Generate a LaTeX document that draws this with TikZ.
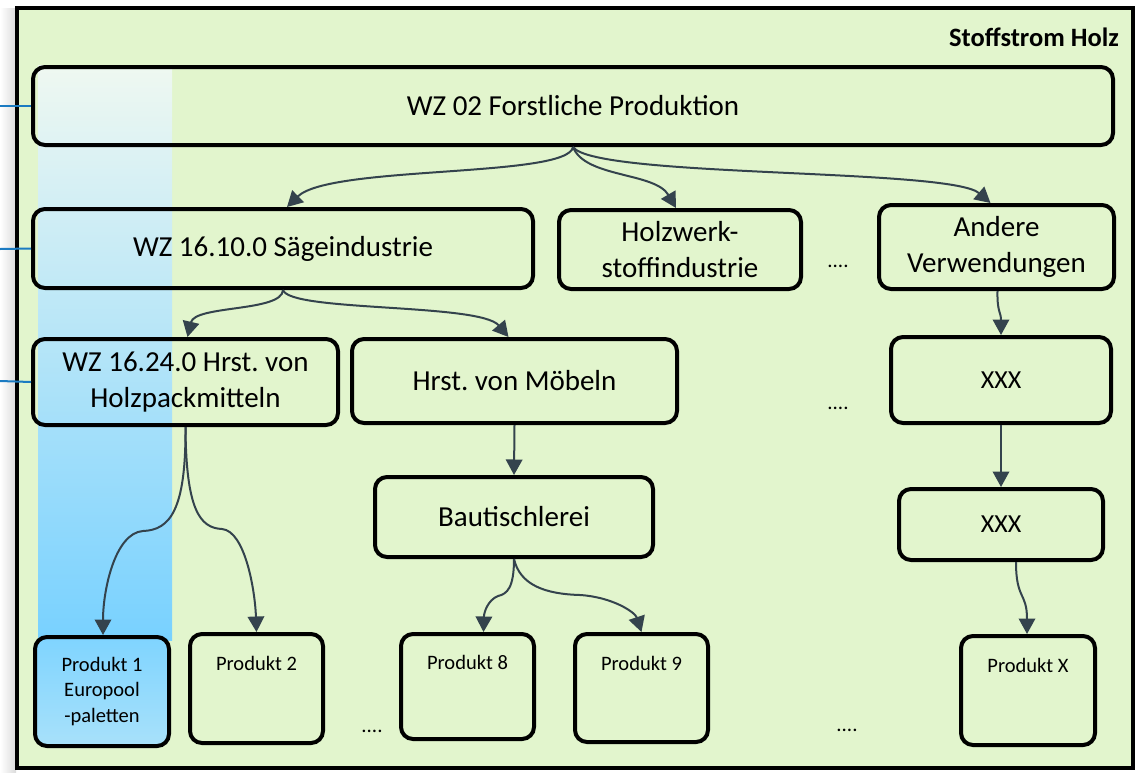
\documentclass[tikz,border=0pt]{standalone}
\usepackage{fontspec}
\setmainfont{Carlito}
\usetikzlibrary{arrows.meta}
\definecolor{bg}{HTML}{E2F5CD}
\definecolor{arr}{HTML}{34434D}
\definecolor{lnk}{HTML}{1B7BC2}
\definecolor{colTop}{HTML}{EFF8F1}
\definecolor{colBot}{HTML}{78D1FF}
\definecolor{pTop}{HTML}{7FD4FF}
\definecolor{pBot}{HTML}{A8E1FA}
\frenchspacing
\begin{document}
\begin{tikzpicture}[x=1pt,y=-1pt,
 box/.style={draw=black,line width=4pt,rounded corners=12pt,inner sep=0pt,align=center,font=\fontsize{29}{36}\selectfont},
 prod/.style={box,font=\fontsize{20.5}{25.5}\selectfont},
 plabel/.style={inner sep=0pt,font=\fontsize{20.5}{25}\selectfont},
 flow/.style={draw=arr,line width=2pt,-{Triangle[length=15.5pt,width=16.5pt]}},
 link/.style={draw=lnk,line width=2pt},
 dots/.style={inner sep=0pt,font=\fontsize{21}{25}\selectfont}
]
\useasboundingbox (0,0) rectangle (1138,772);
\fill[white] (0,0) rectangle (1138,772);
\shade[left color=white,right color=black!14] (0,8) rectangle (16,772);
\fill[bg] (17,8) rectangle (1133,768);
\shade[top color=colTop,bottom color=colBot] (38,65) rectangle (172,640);
\draw[line width=3.5pt] (17,8) rectangle (1133,768);

\node[anchor=east,inner sep=0pt,font=\fontsize{26.5}{30}\selectfont\bfseries] (title) at (1119,37) {Stoffstrom Holz};

\node[box,minimum width=1080pt,minimum height=78pt] (top) at (573,106) {WZ 02 Forstliche Produktion};
\node[box,minimum width=500pt,minimum height=79pt] (saege) at (283,248.5) {WZ 16.10.0 Sägeindustrie};
\node[box,minimum width=242pt,minimum height=79pt] (holz) at (680,249.5) {Holzwerk-\\stoffindustrie};
\node[box,minimum width=235pt,minimum height=84pt] (andere) at (996.5,247) {Andere\\Verwendungen};
\node[box,minimum width=305pt,minimum height=86pt] (wz) at (185.5,382) {WZ 16.24.0 Hrst. von\\Holzpackmitteln};
\node[box,minimum width=325pt,minimum height=84pt] (moebel) at (514.5,381) {Hrst. von Möbeln};
\node[box,minimum width=220pt,minimum height=86pt,font=\fontsize{26}{30}\selectfont] (xxx1) at (1001,380) {XXX};
\node[box,minimum width=278pt,minimum height=80pt] (baut) at (514,517) {Bautischlerei};
\node[box,minimum width=204pt,minimum height=71pt,font=\fontsize{26}{30}\selectfont] (xxx2) at (1001,524.5) {XXX};

\node[prod,top color=pTop,bottom color=pBot,minimum width=134pt,minimum height=109pt] (p1) at (102,691.5) {Produkt 1\\Europool\\-paletten};
\node[prod,minimum width=133pt,minimum height=109pt] (p2) at (256.5,688.5) {};
\node[prod,minimum width=133pt,minimum height=105pt] (p8) at (467.5,686.5) {};
\node[prod,minimum width=133pt,minimum height=108pt] (p9) at (641.5,688) {};
\node[prod,minimum width=134pt,minimum height=109pt] (px) at (1028,690.5) {};
\node[plabel] (p2t) at ([yshift=-31pt]p2.north) {Produkt 2};
\node[plabel] (p8t) at ([yshift=-30pt]p8.north) {Produkt 8};
\node[plabel] (p9t) at ([yshift=-31pt]p9.north) {Produkt 9};
\node[plabel] (pxt) at ([yshift=-31pt]px.north) {Produkt X};

\node[dots] (d1) at (838,266) {....};
\node[dots] (d2) at (838,408) {....};
\node[dots] (d3) at (372,731) {....};
\node[dots] (d4) at (847,730) {....};

\coordinate (l1) at (0,106);
\coordinate (l2) at (0,249);
\coordinate (l3) at (0,381);
\draw[link] (l1) -- (top.west);
\draw[link] (l2) -- (saege.west);
\draw[link] (l3) -- (wz.west);

\draw[flow] (top.south) .. controls (568,178) and (330,165) .. ([xshift=4pt]saege.north);
\draw[flow] (top.south) .. controls (585,178) and (655,172) .. ([xshift=-4pt]holz.north);
\draw[flow] (top.south) .. controls (595,178) and (950,168) .. ([xshift=-6pt]andere.north);
\draw[flow] (saege.south) .. controls (282,312) and (195,305) .. ([xshift=2pt]wz.north);
\draw[flow] (saege.south) .. controls (290,312) and (480,303) .. ([xshift=-6pt]moebel.north);
\draw[flow] (moebel.south) -- (baut.north);
\draw[flow] ([xshift=1pt]andere.south) .. controls (997,312) and (1001,312) .. (xxx1.north);
\draw[flow] (xxx1.south) -- (xxx2.north);
\draw[flow] ([xshift=15pt]xxx2.south) .. controls (1016,600) and (1027,592) .. ([xshift=-1pt]px.north);
\draw[flow] (wz.south) .. controls (186,510) and (170,530) .. (143,531) .. controls (115,533) and (103,590) .. ([xshift=1pt]p1.north);
\draw[flow] (wz.south) .. controls (186,510) and (200,528) .. (222,529) .. controls (245,531) and (255,590) .. (p2.north);
\draw[flow] (baut.south) .. controls (514,588) and (507,594) .. (498,596) .. controls (488,600) and (484,612) .. ([xshift=16pt]p8.north);
\draw[flow] (baut.south) .. controls (520,585) and (545,594) .. (580,595) .. controls (612,597) and (635,612) .. (p9.north);
\end{tikzpicture}
\end{document}
